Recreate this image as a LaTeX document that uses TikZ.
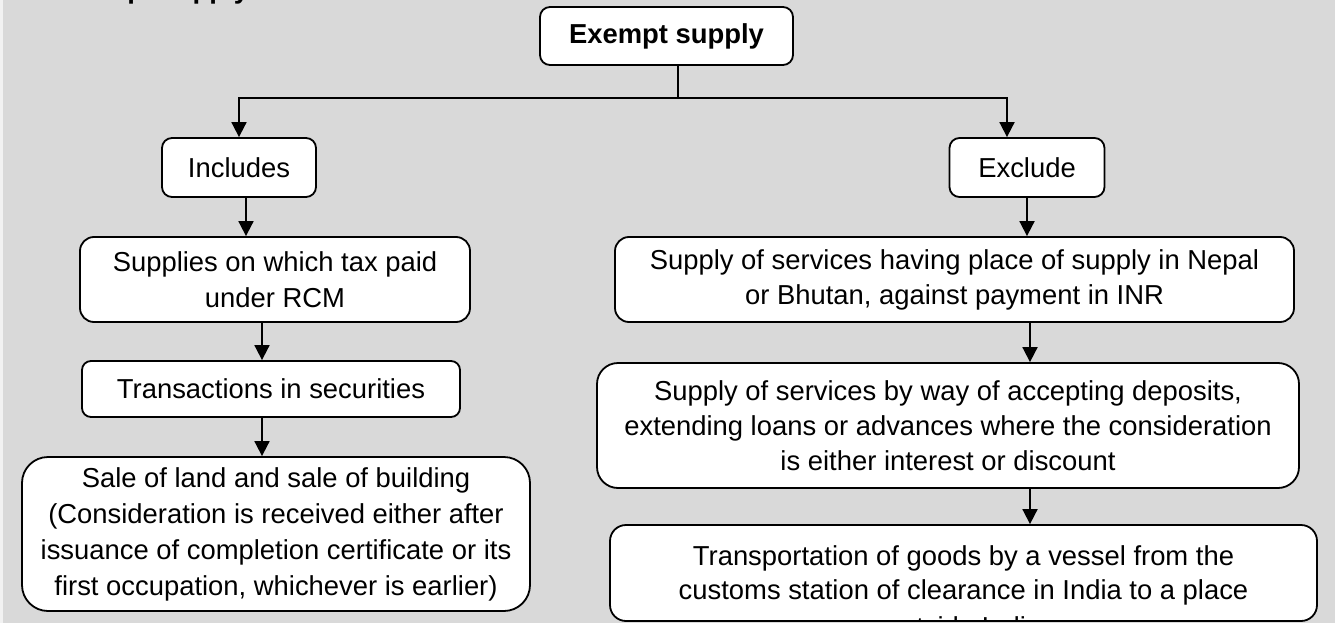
\documentclass[tikz,border=0pt]{standalone}
\usepackage{fontspec}
\setmainfont{Liberation Sans}
\usetikzlibrary{arrows.meta}
\definecolor{bg}{RGB}{217,217,217}
\definecolor{strip}{RGB}{242,242,242}
\begin{document}
\begin{tikzpicture}[x=1pt,y=-1pt,
  box/.style={draw=black, line width=1.8pt, fill=white, inner sep=0pt, align=center,
              font=\fontsize{27.4}{36}\selectfont},
  rbox/.style={box, font=\fontsize{27.4}{35}\selectfont},
  conn/.style={line width=1.8pt},
  arr/.style={line width=1.8pt, -{Triangle[width=15pt,length=15pt]}},
  txt/.style={inner sep=0pt, align=center, font=\fontsize{27.4}{34}\selectfont}
]
\useasboundingbox (0,0) rectangle (1335,623);
\clip (0,0) rectangle (1335,623);
\fill[strip] (0,0) rectangle (3,623);
\fill[bg] (3,0) rectangle (1335,623);

% cut-off title at the top edge
\node[anchor=base west, inner sep=0pt, font=\bfseries\fontsize{27.4}{33}\selectfont] (title) at (54,-1) {Exempt supply};

% nodes
\node[box, font=\bfseries\fontsize{27.4}{33}\selectfont, minimum width=253pt, minimum height=58pt, rounded corners=10pt] (ex) at (666.5,36) {Exempt supply};

\node[box, minimum width=154pt, minimum height=59pt, rounded corners=10pt] (incl) at (239,167.5) {Includes};
\node[box, minimum width=155pt, minimum height=59pt, rounded corners=10pt] (excl) at (1027,167.5) {Exclude};

\node[box, minimum width=390pt, minimum height=85pt, rounded corners=14pt] (supp) at (275,279.5) {Supplies on which tax paid\\under RCM};
\node[box, minimum width=378pt, minimum height=56pt, rounded corners=9pt] (trn) at (271,389) {Transactions in securities};
\node[box, minimum width=508pt, minimum height=154pt, rounded corners=26pt] (sale) at (276,534) {Sale of land and sale of building\\(Consideration is received either after\\issuance of completion certificate or its\\first occupation, whichever is earlier)};

\node[rbox, minimum width=679pt, minimum height=85pt, rounded corners=14pt] (nep) at (954.5,279.5) {Supply of services having place of supply in Nepal\\or Bhutan, against payment in INR};
\node[rbox, minimum width=702pt, minimum height=125pt, rounded corners=21pt] (dep) at (948,425.5) {Supply of services by way of accepting deposits,\\extending loans or advances where the consideration\\is either interest or discount};
\node[rbox, minimum width=707pt, minimum height=96pt, rounded corners=16pt] (tra) at (963.5,573) {};
\node[txt] (tratext) at (963.5,575) {Transportation of goods by a vessel from the\\customs station of clearance in India to a place};
\begin{scope}
  \clip (610,525) rectangle (1317,619.5);
  \node[txt, anchor=base] (tratail) at (963.5,636) {outside India};
\end{scope}

% connector helpers
\coordinate (bx) at (678,98);
\coordinate (xr) at (1007,0);
\coordinate (a1) at (246,0);
\coordinate (a2) at (262,0);
\coordinate (a3) at (1030,0);

\draw[conn] (ex.south -| bx) -- (bx);
\draw[arr] (bx) -| (incl.north);
\draw[arr] (bx) -| (excl.north -| xr);
\draw[arr] (incl.south -| a1) -- (supp.north -| a1);
\draw[arr] (supp.south -| a2) -- (trn.north -| a2);
\draw[arr] (trn.south -| a2) -- (sale.north -| a2);
\draw[arr] (excl.south) -- (nep.north -| excl.south);
\draw[arr] (nep.south -| a3) -- (dep.north -| a3);
\draw[arr] (dep.south -| a3) -- (tra.north -| a3);
\end{tikzpicture}
\end{document}
